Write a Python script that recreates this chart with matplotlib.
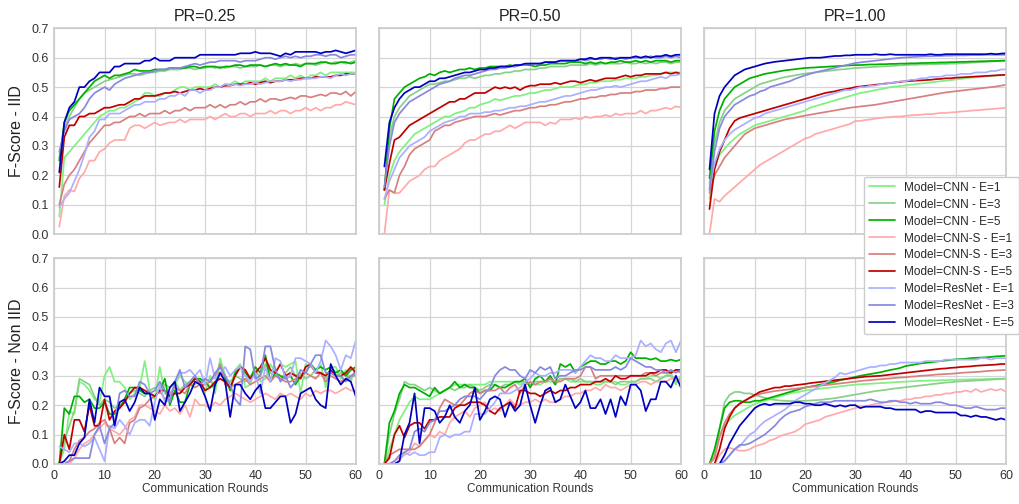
import matplotlib.pyplot as plt
import seaborn as sns

sns.set_theme(style="whitegrid")
plt.rcParams['font.family'] = ['Liberation Sans', 'DejaVu Sans']

rounds = list(range(1, 61))

labels = ['Model=CNN - E=1', 'Model=CNN - E=3', 'Model=CNN - E=5',
          'Model=CNN-S - E=1', 'Model=CNN-S - E=3', 'Model=CNN-S - E=5',
          'Model=ResNet - E=1', 'Model=ResNet - E=3', 'Model=ResNet - E=5']
colors = ['#80f080', '#88d088', '#00b000',
          '#ffaaaa', '#d88080', '#c00000',
          '#aab0ff', '#8888e0', '#0000c0']
pr_titles = ['PR=0.25', 'PR=0.50', 'PR=1.00']
row_labels = ['F-Score - IID', 'F-Score - Non IID']

# ---------- IID, PR=0.25 ----------
iid25_cnn1 = [0.06, 0.26, 0.28, 0.30, 0.32, 0.34, 0.36, 0.38, 0.40, 0.41,
              0.42, 0.42, 0.43, 0.43, 0.44, 0.45, 0.46, 0.48, 0.48, 0.47,
              0.47, 0.48, 0.48, 0.49, 0.50, 0.50, 0.49, 0.50, 0.50, 0.50,
              0.50, 0.51, 0.50, 0.51, 0.51, 0.52, 0.51, 0.52, 0.52, 0.52,
              0.52, 0.53, 0.52, 0.53, 0.53, 0.53, 0.54, 0.53, 0.54, 0.53,
              0.54, 0.54, 0.55, 0.54, 0.55, 0.55, 0.55, 0.55, 0.55, 0.55]
iid25_cnn3 = [0.26, 0.36, 0.40, 0.43, 0.46, 0.48, 0.49, 0.50, 0.51, 0.52,
              0.525, 0.53, 0.535, 0.54, 0.545, 0.545, 0.54, 0.545, 0.55, 0.55,
              0.555, 0.555, 0.56, 0.56, 0.56, 0.565, 0.565, 0.56, 0.565, 0.565,
              0.57, 0.565, 0.57, 0.565, 0.57, 0.57, 0.565, 0.57, 0.57, 0.57,
              0.575, 0.57, 0.575, 0.575, 0.57, 0.575, 0.575, 0.58, 0.575, 0.58,
              0.58, 0.575, 0.58, 0.585, 0.58, 0.585, 0.585, 0.58, 0.585, 0.59]
iid25_cnn5 = [0.25, 0.38, 0.42, 0.44, 0.46, 0.48, 0.50, 0.52, 0.53, 0.54,
              0.53, 0.54, 0.54, 0.545, 0.55, 0.56, 0.555, 0.555, 0.555, 0.56,
              0.56, 0.56, 0.565, 0.565, 0.565, 0.565, 0.57, 0.57, 0.565, 0.57,
              0.57, 0.57, 0.565, 0.57, 0.57, 0.575, 0.575, 0.57, 0.575, 0.575,
              0.575, 0.57, 0.575, 0.58, 0.575, 0.58, 0.575, 0.575, 0.57, 0.58,
              0.58, 0.58, 0.585, 0.585, 0.58, 0.58, 0.585, 0.585, 0.58, 0.585]
iid25_cnns1 = [0.025, 0.13, 0.15, 0.145, 0.19, 0.21, 0.25, 0.25, 0.28, 0.29,
               0.31, 0.32, 0.32, 0.32, 0.36, 0.37, 0.37, 0.36, 0.37, 0.38,
               0.37, 0.375, 0.38, 0.38, 0.39, 0.38, 0.39, 0.39, 0.39, 0.39,
               0.40, 0.39, 0.40, 0.41, 0.40, 0.40, 0.41, 0.41, 0.40, 0.41,
               0.41, 0.41, 0.42, 0.41, 0.42, 0.42, 0.41, 0.42, 0.42, 0.43,
               0.42, 0.43, 0.42, 0.43, 0.43, 0.44, 0.44, 0.45, 0.445, 0.44]
iid25_cnns3 = [0.10, 0.17, 0.20, 0.22, 0.25, 0.28, 0.31, 0.33, 0.35, 0.37,
               0.37, 0.38, 0.38, 0.39, 0.40, 0.40, 0.41, 0.40, 0.41, 0.41,
               0.41, 0.42, 0.41, 0.42, 0.42, 0.43, 0.42, 0.43, 0.43, 0.43,
               0.44, 0.43, 0.44, 0.43, 0.44, 0.44, 0.45, 0.44, 0.45, 0.45,
               0.46, 0.45, 0.46, 0.46, 0.455, 0.46, 0.465, 0.46, 0.47, 0.47,
               0.465, 0.47, 0.475, 0.47, 0.48, 0.48, 0.475, 0.485, 0.47, 0.485]
iid25_cnns5 = [0.16, 0.33, 0.37, 0.37, 0.40, 0.40, 0.41, 0.41, 0.42, 0.43,
               0.43, 0.435, 0.44, 0.44, 0.45, 0.46, 0.46, 0.47, 0.47, 0.47,
               0.475, 0.48, 0.48, 0.485, 0.48, 0.485, 0.49, 0.49, 0.495, 0.49,
               0.495, 0.50, 0.50, 0.505, 0.505, 0.51, 0.51, 0.51, 0.515, 0.51,
               0.515, 0.52, 0.515, 0.52, 0.52, 0.525, 0.525, 0.525, 0.53, 0.53,
               0.53, 0.535, 0.535, 0.535, 0.535, 0.54, 0.54, 0.545, 0.545, 0.545]
iid25_resnet1 = [0.09, 0.12, 0.14, 0.18, 0.22, 0.27, 0.33, 0.35, 0.39, 0.39,
                 0.41, 0.41, 0.41, 0.42, 0.43, 0.44, 0.44, 0.45, 0.45, 0.45,
                 0.46, 0.46, 0.47, 0.47, 0.48, 0.47, 0.49, 0.49, 0.48, 0.49,
                 0.49, 0.50, 0.50, 0.51, 0.505, 0.51, 0.505, 0.51, 0.51, 0.515,
                 0.51, 0.515, 0.52, 0.52, 0.52, 0.525, 0.52, 0.525, 0.525, 0.53,
                 0.53, 0.53, 0.535, 0.535, 0.53, 0.54, 0.545, 0.54, 0.545, 0.545]
iid25_resnet3 = [0.28, 0.35, 0.39, 0.40, 0.41, 0.43, 0.46, 0.48, 0.49, 0.50,
                 0.49, 0.51, 0.52, 0.53, 0.535, 0.54, 0.545, 0.55, 0.55, 0.555,
                 0.56, 0.56, 0.565, 0.565, 0.565, 0.57, 0.575, 0.58, 0.575, 0.58,
                 0.585, 0.585, 0.59, 0.59, 0.59, 0.59, 0.585, 0.59, 0.59, 0.59,
                 0.595, 0.60, 0.60, 0.595, 0.60, 0.605, 0.60, 0.605, 0.60, 0.605,
                 0.605, 0.61, 0.61, 0.605, 0.61, 0.61, 0.60, 0.605, 0.61, 0.61]
iid25_resnet5 = [0.21, 0.38, 0.43, 0.45, 0.50, 0.50, 0.52, 0.53, 0.55, 0.55,
                 0.55, 0.57, 0.57, 0.58, 0.58, 0.58, 0.58, 0.59, 0.59, 0.60,
                 0.59, 0.59, 0.59, 0.60, 0.60, 0.60, 0.60, 0.60, 0.61, 0.61,
                 0.61, 0.61, 0.61, 0.61, 0.61, 0.61, 0.615, 0.615, 0.615, 0.62,
                 0.615, 0.615, 0.615, 0.61, 0.605, 0.615, 0.61, 0.62, 0.62, 0.62,
                 0.62, 0.62, 0.615, 0.62, 0.62, 0.625, 0.62, 0.615, 0.62, 0.625]

# ---------- IID, PR=0.50 ----------
iid50_cnn1 = [0.10, 0.20, 0.25, 0.28, 0.30, 0.32, 0.34, 0.35, 0.36, 0.37,
              0.38, 0.39, 0.40, 0.40, 0.41, 0.415, 0.42, 0.43, 0.43, 0.44,
              0.445, 0.45, 0.46, 0.455, 0.46, 0.465, 0.47, 0.47, 0.475, 0.48,
              0.48, 0.485, 0.49, 0.49, 0.495, 0.50, 0.50, 0.50, 0.505, 0.51,
              0.51, 0.515, 0.515, 0.52, 0.52, 0.52, 0.525, 0.525, 0.53, 0.53,
              0.53, 0.535, 0.535, 0.54, 0.54, 0.545, 0.55, 0.55, 0.55, 0.55]
iid50_cnn3 = [0.15, 0.33, 0.40, 0.43, 0.45, 0.47, 0.48, 0.49, 0.50, 0.51,
              0.51, 0.515, 0.52, 0.52, 0.525, 0.53, 0.53, 0.535, 0.53, 0.535,
              0.54, 0.54, 0.545, 0.545, 0.55, 0.55, 0.555, 0.555, 0.56, 0.56,
              0.56, 0.565, 0.565, 0.57, 0.57, 0.57, 0.57, 0.575, 0.575, 0.575,
              0.575, 0.58, 0.575, 0.58, 0.58, 0.58, 0.58, 0.58, 0.585, 0.58,
              0.58, 0.585, 0.58, 0.585, 0.58, 0.585, 0.585, 0.58, 0.585, 0.585]
iid50_cnn5 = [0.15, 0.36, 0.46, 0.48, 0.50, 0.51, 0.52, 0.53, 0.535, 0.545,
              0.54, 0.55, 0.555, 0.55, 0.555, 0.56, 0.56, 0.565, 0.56, 0.565,
              0.565, 0.57, 0.57, 0.57, 0.57, 0.575, 0.57, 0.575, 0.575, 0.575,
              0.57, 0.575, 0.575, 0.58, 0.58, 0.58, 0.58, 0.585, 0.585, 0.585,
              0.58, 0.585, 0.58, 0.585, 0.58, 0.585, 0.585, 0.59, 0.585, 0.585,
              0.59, 0.585, 0.59, 0.585, 0.59, 0.59, 0.59, 0.585, 0.59, 0.59]
iid50_cnns1 = [0.00, 0.15, 0.14, 0.14, 0.16, 0.18, 0.19, 0.20, 0.22, 0.23,
               0.23, 0.25, 0.26, 0.27, 0.28, 0.29, 0.31, 0.32, 0.32, 0.33,
               0.34, 0.34, 0.35, 0.35, 0.36, 0.37, 0.36, 0.37, 0.38, 0.38,
               0.38, 0.38, 0.37, 0.38, 0.375, 0.39, 0.39, 0.39, 0.395, 0.39,
               0.40, 0.395, 0.40, 0.40, 0.405, 0.40, 0.41, 0.405, 0.41, 0.41,
               0.41, 0.42, 0.41, 0.42, 0.42, 0.425, 0.43, 0.425, 0.435, 0.43]
iid50_cnns3 = [0.12, 0.15, 0.14, 0.20, 0.23, 0.27, 0.29, 0.30, 0.31, 0.32,
               0.35, 0.36, 0.37, 0.37, 0.38, 0.385, 0.39, 0.395, 0.40, 0.40,
               0.40, 0.405, 0.41, 0.405, 0.41, 0.415, 0.42, 0.42, 0.425, 0.43,
               0.43, 0.435, 0.435, 0.44, 0.44, 0.445, 0.45, 0.45, 0.455, 0.46,
               0.46, 0.465, 0.465, 0.47, 0.47, 0.475, 0.475, 0.48, 0.48, 0.48,
               0.485, 0.485, 0.49, 0.49, 0.49, 0.495, 0.495, 0.50, 0.50, 0.50]
iid50_cnns5 = [0.15, 0.24, 0.32, 0.33, 0.35, 0.37, 0.38, 0.39, 0.40, 0.41,
               0.42, 0.43, 0.44, 0.45, 0.45, 0.46, 0.46, 0.47, 0.48, 0.48,
               0.48, 0.49, 0.50, 0.495, 0.50, 0.495, 0.50, 0.49, 0.50, 0.505,
               0.505, 0.51, 0.51, 0.51, 0.515, 0.51, 0.515, 0.52, 0.52, 0.515,
               0.52, 0.525, 0.52, 0.525, 0.53, 0.53, 0.53, 0.535, 0.54, 0.535,
               0.54, 0.54, 0.545, 0.545, 0.545, 0.545, 0.55, 0.545, 0.55, 0.545]
iid50_resnet1 = [0.12, 0.18, 0.22, 0.26, 0.28, 0.30, 0.31, 0.32, 0.33, 0.35,
                 0.36, 0.37, 0.38, 0.385, 0.39, 0.40, 0.40, 0.41, 0.41, 0.41,
                 0.415, 0.415, 0.42, 0.42, 0.425, 0.43, 0.43, 0.435, 0.435, 0.44,
                 0.445, 0.45, 0.45, 0.455, 0.46, 0.465, 0.47, 0.47, 0.475, 0.48,
                 0.485, 0.49, 0.49, 0.495, 0.50, 0.50, 0.505, 0.50, 0.505, 0.51,
                 0.515, 0.52, 0.52, 0.525, 0.53, 0.535, 0.53, 0.54, 0.54, 0.545]
iid50_resnet3 = [0.16, 0.30, 0.38, 0.41, 0.43, 0.45, 0.46, 0.47, 0.48, 0.49,
                 0.50, 0.51, 0.515, 0.52, 0.53, 0.535, 0.54, 0.54, 0.545, 0.55,
                 0.555, 0.56, 0.56, 0.565, 0.565, 0.57, 0.57, 0.575, 0.575, 0.58,
                 0.58, 0.58, 0.585, 0.585, 0.585, 0.59, 0.59, 0.59, 0.59, 0.595,
                 0.59, 0.595, 0.595, 0.595, 0.60, 0.595, 0.60, 0.60, 0.595, 0.60,
                 0.60, 0.60, 0.60, 0.605, 0.60, 0.60, 0.605, 0.60, 0.605, 0.60]
iid50_resnet5 = [0.23, 0.38, 0.43, 0.46, 0.48, 0.49, 0.50, 0.50, 0.51, 0.52,
                 0.52, 0.53, 0.53, 0.535, 0.54, 0.545, 0.55, 0.55, 0.555, 0.56,
                 0.56, 0.565, 0.565, 0.57, 0.57, 0.57, 0.575, 0.575, 0.58, 0.58,
                 0.58, 0.58, 0.585, 0.585, 0.585, 0.59, 0.59, 0.59, 0.59, 0.595,
                 0.595, 0.60, 0.595, 0.60, 0.60, 0.60, 0.595, 0.60, 0.60, 0.60,
                 0.605, 0.60, 0.605, 0.60, 0.605, 0.605, 0.61, 0.605, 0.61, 0.61]

# ---------- IID, PR=1.00 ----------
iid100_cnn1 = [0.12, 0.23, 0.27, 0.29, 0.31, 0.325, 0.34, 0.35, 0.36, 0.37,
               0.375, 0.38, 0.385, 0.39, 0.395, 0.40, 0.405, 0.41, 0.415, 0.42,
               0.43, 0.435, 0.44, 0.445, 0.45, 0.455, 0.46, 0.465, 0.47, 0.475,
               0.48, 0.483, 0.486, 0.49, 0.493, 0.496, 0.50, 0.502, 0.504, 0.506,
               0.508, 0.51, 0.512, 0.514, 0.516, 0.518, 0.52, 0.522, 0.524, 0.526,
               0.528, 0.53, 0.532, 0.533, 0.535, 0.537, 0.538, 0.54, 0.541, 0.542]
iid100_cnn3 = [0.17, 0.31, 0.38, 0.42, 0.44, 0.46, 0.47, 0.48, 0.49, 0.50,
               0.51, 0.515, 0.52, 0.525, 0.53, 0.534, 0.537, 0.54, 0.543, 0.546,
               0.548, 0.55, 0.552, 0.554, 0.556, 0.558, 0.56, 0.561, 0.563, 0.565,
               0.566, 0.567, 0.568, 0.569, 0.57, 0.571, 0.572, 0.573, 0.574, 0.575,
               0.576, 0.576, 0.577, 0.577, 0.578, 0.578, 0.579, 0.579, 0.58, 0.58,
               0.581, 0.582, 0.583, 0.584, 0.585, 0.586, 0.587, 0.588, 0.589, 0.59]
iid100_cnn5 = [0.19, 0.35, 0.42, 0.46, 0.48, 0.50, 0.51, 0.52, 0.53, 0.535,
               0.54, 0.545, 0.548, 0.551, 0.554, 0.557, 0.559, 0.561, 0.563, 0.565,
               0.566, 0.567, 0.568, 0.569, 0.57, 0.571, 0.572, 0.573, 0.574, 0.575,
               0.575, 0.576, 0.577, 0.577, 0.578, 0.578, 0.579, 0.579, 0.58, 0.58,
               0.581, 0.581, 0.582, 0.582, 0.583, 0.583, 0.584, 0.584, 0.585, 0.585,
               0.586, 0.586, 0.587, 0.587, 0.588, 0.588, 0.589, 0.589, 0.59, 0.59]
iid100_cnns1 = [0.0, 0.12, 0.11, 0.13, 0.145, 0.16, 0.175, 0.19, 0.205, 0.22,
                0.235, 0.245, 0.255, 0.265, 0.275, 0.285, 0.295, 0.305, 0.315, 0.325,
                0.33, 0.34, 0.345, 0.35, 0.355, 0.36, 0.365, 0.37, 0.375, 0.385,
                0.385, 0.388, 0.39, 0.393, 0.395, 0.397, 0.398, 0.40, 0.40, 0.402,
                0.404, 0.405, 0.406, 0.408, 0.408, 0.41, 0.412, 0.412, 0.414, 0.415,
                0.417, 0.418, 0.42, 0.421, 0.422, 0.424, 0.425, 0.427, 0.428, 0.43]
iid100_cnns3 = [0.14, 0.20, 0.23, 0.26, 0.28, 0.30, 0.32, 0.34, 0.35, 0.36,
                0.365, 0.37, 0.375, 0.38, 0.385, 0.39, 0.393, 0.396, 0.40, 0.403,
                0.406, 0.409, 0.412, 0.415, 0.418, 0.421, 0.424, 0.427, 0.43, 0.432,
                0.434, 0.436, 0.438, 0.44, 0.443, 0.446, 0.449, 0.452, 0.455, 0.458,
                0.461, 0.464, 0.467, 0.47, 0.473, 0.476, 0.479, 0.482, 0.484, 0.486,
                0.488, 0.49, 0.492, 0.494, 0.496, 0.498, 0.50, 0.502, 0.505, 0.508]
iid100_cnns5 = [0.085, 0.22, 0.28, 0.32, 0.36, 0.385, 0.395, 0.40, 0.405, 0.41,
                0.415, 0.42, 0.425, 0.43, 0.435, 0.44, 0.445, 0.45, 0.455, 0.46,
                0.465, 0.47, 0.475, 0.48, 0.483, 0.486, 0.49, 0.493, 0.496, 0.50,
                0.502, 0.504, 0.506, 0.508, 0.51, 0.512, 0.514, 0.516, 0.518, 0.52,
                0.521, 0.522, 0.523, 0.524, 0.525, 0.527, 0.528, 0.53, 0.53, 0.532,
                0.533, 0.534, 0.535, 0.536, 0.537, 0.538, 0.539, 0.54, 0.541, 0.542]
iid100_resnet1 = [0.16, 0.24, 0.29, 0.32, 0.34, 0.355, 0.365, 0.375, 0.385, 0.395,
                  0.40, 0.41, 0.415, 0.42, 0.425, 0.43, 0.435, 0.44, 0.445, 0.45,
                  0.455, 0.46, 0.465, 0.47, 0.475, 0.48, 0.485, 0.49, 0.49, 0.495,
                  0.50, 0.50, 0.505, 0.505, 0.51, 0.51, 0.515, 0.515, 0.52, 0.52,
                  0.525, 0.525, 0.53, 0.53, 0.535, 0.535, 0.535, 0.54, 0.54, 0.54,
                  0.545, 0.545, 0.545, 0.55, 0.55, 0.55, 0.555, 0.555, 0.56, 0.56]
iid100_resnet3 = [0.15, 0.28, 0.36, 0.40, 0.42, 0.44, 0.45, 0.46, 0.47, 0.475,
                  0.485, 0.49, 0.50, 0.505, 0.51, 0.515, 0.52, 0.528, 0.534, 0.54,
                  0.545, 0.55, 0.554, 0.558, 0.562, 0.566, 0.57, 0.574, 0.578, 0.582,
                  0.584, 0.586, 0.588, 0.59, 0.592, 0.594, 0.596, 0.598, 0.60, 0.601,
                  0.602, 0.603, 0.604, 0.605, 0.605, 0.606, 0.606, 0.607, 0.607, 0.608,
                  0.608, 0.608, 0.609, 0.609, 0.609, 0.61, 0.61, 0.61, 0.61, 0.61]
iid100_resnet5 = [0.22, 0.41, 0.47, 0.50, 0.52, 0.54, 0.55, 0.56, 0.565, 0.57,
                  0.575, 0.58, 0.583, 0.586, 0.588, 0.59, 0.592, 0.594, 0.596, 0.598,
                  0.60, 0.60, 0.60, 0.602, 0.604, 0.606, 0.606, 0.608, 0.608, 0.61,
                  0.61, 0.61, 0.61, 0.612, 0.61, 0.61, 0.612, 0.61, 0.61, 0.61,
                  0.61, 0.61, 0.61, 0.61, 0.612, 0.61, 0.61, 0.612, 0.612, 0.612,
                  0.612, 0.612, 0.612, 0.612, 0.612, 0.612, 0.614, 0.612, 0.614, 0.615]

# ---------- Non IID, PR=0.25 ----------
niid25_cnn1 = [0.0, 0.05, 0.18, 0.17, 0.28, 0.27, 0.25, 0.22, 0.21, 0.30,
               0.33, 0.28, 0.28, 0.26, 0.22, 0.24, 0.26, 0.35, 0.25, 0.22,
               0.33, 0.24, 0.23, 0.27, 0.30, 0.28, 0.27, 0.27, 0.29, 0.24,
               0.30, 0.24, 0.36, 0.30, 0.25, 0.32, 0.34, 0.26, 0.27, 0.33,
               0.28, 0.29, 0.34, 0.31, 0.34, 0.33, 0.34, 0.35, 0.24, 0.34,
               0.33, 0.32, 0.34, 0.26, 0.33, 0.33, 0.29, 0.32, 0.28, 0.33]
niid25_cnn3 = [0.0, 0.08, 0.13, 0.18, 0.29, 0.28, 0.27, 0.23, 0.20, 0.22,
               0.21, 0.19, 0.20, 0.21, 0.24, 0.25, 0.24, 0.23, 0.25, 0.26,
               0.24, 0.27, 0.26, 0.28, 0.25, 0.27, 0.28, 0.30, 0.27, 0.29,
               0.28, 0.27, 0.34, 0.29, 0.28, 0.30, 0.29, 0.28, 0.30, 0.31,
               0.30, 0.34, 0.31, 0.30, 0.29, 0.31, 0.33, 0.30, 0.31, 0.29,
               0.30, 0.32, 0.31, 0.29, 0.31, 0.30, 0.31, 0.30, 0.29, 0.32]
niid25_cnn5 = [0.0, 0.19, 0.17, 0.23, 0.23, 0.21, 0.22, 0.19, 0.19, 0.21,
               0.17, 0.17, 0.19, 0.22, 0.26, 0.26, 0.25, 0.24, 0.24, 0.23,
               0.25, 0.29, 0.20, 0.25, 0.21, 0.21, 0.27, 0.29, 0.29, 0.28,
               0.26, 0.27, 0.31, 0.29, 0.25, 0.31, 0.33, 0.31, 0.29, 0.33,
               0.31, 0.37, 0.28, 0.31, 0.30, 0.29, 0.30, 0.27, 0.30, 0.31,
               0.34, 0.32, 0.33, 0.32, 0.33, 0.31, 0.32, 0.30, 0.32, 0.33]
niid25_cnns1 = [0.0, 0.0, 0.0, 0.02, 0.05, 0.07, 0.08, 0.10, 0.12, 0.14,
                0.12, 0.11, 0.10, 0.12, 0.15, 0.16, 0.20, 0.20, 0.19, 0.18,
                0.17, 0.20, 0.18, 0.19, 0.17, 0.20, 0.16, 0.22, 0.20, 0.20,
                0.19, 0.21, 0.20, 0.22, 0.23, 0.24, 0.23, 0.22, 0.21, 0.22,
                0.23, 0.24, 0.23, 0.22, 0.24, 0.23, 0.24, 0.23, 0.22, 0.24,
                0.23, 0.25, 0.24, 0.25, 0.25, 0.24, 0.25, 0.26, 0.25, 0.25]
niid25_cnns3 = [0.0, 0.0, 0.01, 0.05, 0.08, 0.09, 0.11, 0.12, 0.14, 0.15,
                0.12, 0.07, 0.09, 0.07, 0.14, 0.15, 0.19, 0.20, 0.22, 0.23,
                0.25, 0.22, 0.24, 0.26, 0.25, 0.24, 0.27, 0.26, 0.27, 0.27,
                0.28, 0.30, 0.34, 0.27, 0.26, 0.27, 0.28, 0.29, 0.27, 0.28,
                0.29, 0.30, 0.28, 0.30, 0.29, 0.28, 0.28, 0.29, 0.30, 0.31,
                0.30, 0.29, 0.31, 0.28, 0.30, 0.29, 0.28, 0.29, 0.30, 0.30]
niid25_cnns5 = [0.0, 0.10, 0.05, 0.15, 0.15, 0.11, 0.20, 0.13, 0.13, 0.22,
                0.15, 0.18, 0.19, 0.21, 0.24, 0.26, 0.26, 0.25, 0.24, 0.23,
                0.25, 0.25, 0.23, 0.24, 0.24, 0.26, 0.27, 0.29, 0.28, 0.25,
                0.26, 0.28, 0.29, 0.28, 0.26, 0.30, 0.33, 0.32, 0.29, 0.31,
                0.33, 0.36, 0.32, 0.31, 0.34, 0.30, 0.31, 0.30, 0.29, 0.33,
                0.34, 0.31, 0.31, 0.30, 0.32, 0.30, 0.30, 0.31, 0.33, 0.31]
niid25_resnet1 = [0.06, 0.05, 0.04, 0.07, 0.07, 0.06, 0.07, 0.09, 0.05, 0.01,
                  0.13, 0.12, 0.15, 0.13, 0.10, 0.14, 0.15, 0.15, 0.13, 0.21,
                  0.27, 0.21, 0.22, 0.28, 0.31, 0.31, 0.32, 0.30, 0.32, 0.27,
                  0.36, 0.29, 0.31, 0.33, 0.30, 0.32, 0.33, 0.30, 0.28, 0.31,
                  0.24, 0.33, 0.28, 0.36, 0.35, 0.29, 0.30, 0.36, 0.36, 0.35,
                  0.34, 0.31, 0.35, 0.42, 0.40, 0.37, 0.32, 0.37, 0.36, 0.42]
niid25_resnet3 = [0.0, 0.0, 0.01, 0.02, 0.02, 0.02, 0.02, 0.10, 0.13, 0.07,
                  0.12, 0.14, 0.24, 0.25, 0.23, 0.23, 0.28, 0.27, 0.24, 0.25,
                  0.28, 0.25, 0.21, 0.28, 0.32, 0.26, 0.28, 0.30, 0.27, 0.29,
                  0.28, 0.31, 0.33, 0.30, 0.27, 0.22, 0.20, 0.40, 0.39, 0.29,
                  0.30, 0.40, 0.40, 0.32, 0.28, 0.30, 0.26, 0.28, 0.32, 0.31,
                  0.34, 0.37, 0.37, 0.31, 0.31, 0.30, 0.30, 0.28, 0.30, 0.31]
niid25_resnet5 = [0.0, 0.01, 0.03, 0.03, 0.07, 0.09, 0.22, 0.14, 0.26, 0.23,
                  0.23, 0.13, 0.21, 0.22, 0.18, 0.21, 0.26, 0.24, 0.24, 0.15,
                  0.22, 0.20, 0.26, 0.28, 0.18, 0.21, 0.24, 0.28, 0.27, 0.23,
                  0.18, 0.27, 0.31, 0.28, 0.16, 0.27, 0.27, 0.24, 0.22, 0.25,
                  0.27, 0.19, 0.19, 0.21, 0.23, 0.23, 0.14, 0.17, 0.24, 0.25,
                  0.26, 0.22, 0.20, 0.19, 0.34, 0.30, 0.27, 0.29, 0.28, 0.23]

# ---------- Non IID, PR=0.50 ----------
niid50_cnn1 = [0.0, 0.05, 0.10, 0.15, 0.18, 0.21, 0.23, 0.22, 0.22, 0.22,
               0.23, 0.24, 0.25, 0.26, 0.27, 0.27, 0.27, 0.27, 0.27, 0.27,
               0.27, 0.28, 0.28, 0.28, 0.28, 0.28, 0.28, 0.27, 0.28, 0.27,
               0.27, 0.27, 0.28, 0.28, 0.28, 0.29, 0.29, 0.28, 0.28, 0.28,
               0.28, 0.28, 0.27, 0.27, 0.28, 0.28, 0.28, 0.27, 0.27, 0.28,
               0.28, 0.29, 0.29, 0.30, 0.30, 0.29, 0.30, 0.31, 0.27, 0.30]
niid50_cnn3 = [0.0, 0.10, 0.17, 0.22, 0.28, 0.27, 0.27, 0.26, 0.25, 0.26,
               0.25, 0.24, 0.25, 0.26, 0.25, 0.26, 0.26, 0.27, 0.26, 0.25,
               0.26, 0.27, 0.27, 0.26, 0.27, 0.27, 0.28, 0.28, 0.28, 0.27,
               0.28, 0.28, 0.28, 0.29, 0.27, 0.29, 0.29, 0.29, 0.28, 0.29,
               0.28, 0.28, 0.28, 0.28, 0.28, 0.28, 0.27, 0.28, 0.28, 0.28,
               0.28, 0.29, 0.29, 0.29, 0.28, 0.29, 0.30, 0.30, 0.28, 0.29]
niid50_cnn5 = [0.0, 0.14, 0.18, 0.24, 0.27, 0.26, 0.26, 0.25, 0.24, 0.23,
               0.26, 0.24, 0.25, 0.26, 0.28, 0.26, 0.27, 0.26, 0.26, 0.24,
               0.25, 0.25, 0.27, 0.26, 0.26, 0.27, 0.28, 0.28, 0.29, 0.26,
               0.29, 0.30, 0.28, 0.30, 0.27, 0.34, 0.33, 0.34, 0.31, 0.33,
               0.34, 0.35, 0.35, 0.34, 0.34, 0.35, 0.35, 0.34, 0.35, 0.38,
               0.36, 0.36, 0.36, 0.355, 0.36, 0.35, 0.35, 0.355, 0.35, 0.355]
niid50_cnns1 = [0.0, 0.0, 0.01, 0.02, 0.03, 0.04, 0.07, 0.06, 0.08, 0.10,
                0.09, 0.11, 0.10, 0.14, 0.16, 0.17, 0.18, 0.16, 0.19, 0.20,
                0.21, 0.18, 0.19, 0.18, 0.20, 0.22, 0.20, 0.20, 0.21, 0.21,
                0.22, 0.21, 0.22, 0.21, 0.21, 0.22, 0.23, 0.23, 0.24, 0.24,
                0.25, 0.25, 0.26, 0.25, 0.27, 0.26, 0.26, 0.25, 0.26, 0.27,
                0.27, 0.28, 0.28, 0.27, 0.28, 0.28, 0.28, 0.29, 0.29, 0.28]
niid50_cnns3 = [0.0, 0.03, 0.04, 0.05, 0.05, 0.05, 0.05, 0.06, 0.08, 0.10,
                0.14, 0.19, 0.22, 0.21, 0.20, 0.20, 0.22, 0.24, 0.25, 0.24,
                0.25, 0.25, 0.25, 0.26, 0.24, 0.26, 0.27, 0.24, 0.27, 0.28,
                0.27, 0.28, 0.28, 0.29, 0.28, 0.28, 0.29, 0.29, 0.29, 0.30,
                0.33, 0.33, 0.29, 0.30, 0.30, 0.30, 0.30, 0.30, 0.30, 0.30,
                0.30, 0.30, 0.31, 0.31, 0.30, 0.31, 0.31, 0.31, 0.32, 0.31]
niid50_cnns5 = [0.0, 0.02, 0.10, 0.13, 0.09, 0.13, 0.14, 0.14, 0.12, 0.15,
                0.15, 0.16, 0.16, 0.16, 0.19, 0.20, 0.20, 0.21, 0.21, 0.21,
                0.20, 0.18, 0.17, 0.19, 0.20, 0.21, 0.19, 0.25, 0.25, 0.24,
                0.24, 0.23, 0.24, 0.25, 0.24, 0.25, 0.25, 0.26, 0.26, 0.27,
                0.27, 0.27, 0.28, 0.28, 0.29, 0.28, 0.30, 0.29, 0.29, 0.30,
                0.30, 0.30, 0.30, 0.31, 0.31, 0.32, 0.32, 0.31, 0.32, 0.32]
niid50_resnet1 = [0.0, 0.0, 0.0, 0.01, 0.04, 0.03, 0.04, 0.03, 0.03, 0.04,
                  0.04, 0.09, 0.10, 0.09, 0.10, 0.10, 0.11, 0.11, 0.17, 0.17,
                  0.17, 0.19, 0.21, 0.24, 0.24, 0.24, 0.25, 0.26, 0.28, 0.29,
                  0.31, 0.30, 0.30, 0.31, 0.31, 0.32, 0.32, 0.32, 0.31, 0.33,
                  0.35, 0.37, 0.36, 0.36, 0.35, 0.35, 0.37, 0.36, 0.36, 0.36,
                  0.37, 0.42, 0.40, 0.41, 0.39, 0.38, 0.41, 0.42, 0.38, 0.42]
niid50_resnet3 = [0.0, 0.0, 0.01, 0.03, 0.04, 0.05, 0.11, 0.12, 0.11, 0.14,
                  0.15, 0.18, 0.18, 0.19, 0.20, 0.22, 0.23, 0.23, 0.23, 0.22,
                  0.24, 0.26, 0.30, 0.32, 0.33, 0.32, 0.32, 0.30, 0.29, 0.32,
                  0.31, 0.33, 0.32, 0.33, 0.29, 0.30, 0.30, 0.31, 0.32, 0.32,
                  0.33, 0.33, 0.32, 0.32, 0.32, 0.32, 0.33, 0.32, 0.33, 0.36,
                  0.35, 0.34, 0.33, 0.33, 0.32, 0.32, 0.31, 0.32, 0.31, 0.32]
niid50_resnet5 = [0.0, 0.0, 0.0, 0.01, 0.10, 0.14, 0.24, 0.07, 0.19, 0.19,
                  0.18, 0.14, 0.16, 0.20, 0.16, 0.14, 0.18, 0.20, 0.26, 0.15,
                  0.18, 0.22, 0.23, 0.22, 0.16, 0.21, 0.18, 0.20, 0.27, 0.20,
                  0.14, 0.20, 0.25, 0.26, 0.21, 0.22, 0.27, 0.23, 0.19, 0.21,
                  0.25, 0.19, 0.19, 0.22, 0.17, 0.22, 0.16, 0.23, 0.20, 0.27,
                  0.27, 0.25, 0.18, 0.22, 0.22, 0.28, 0.28, 0.26, 0.30, 0.26]

# ---------- Non IID, PR=1.00 ----------
niid100_cnn1 = [0.0, 0.03, 0.10, 0.13, 0.15, 0.165, 0.175, 0.185, 0.195, 0.205,
                0.21, 0.215, 0.22, 0.225, 0.23, 0.235, 0.24, 0.243, 0.246, 0.25,
                0.252, 0.254, 0.256, 0.258, 0.26, 0.262, 0.264, 0.266, 0.268, 0.27,
                0.271, 0.272, 0.273, 0.274, 0.275, 0.276, 0.277, 0.278, 0.279, 0.28,
                0.281, 0.282, 0.283, 0.283, 0.284, 0.284, 0.285, 0.285, 0.286, 0.286,
                0.287, 0.287, 0.288, 0.288, 0.288, 0.289, 0.289, 0.29, 0.29, 0.291]
niid100_cnn3 = [0.0, 0.03, 0.12, 0.21, 0.235, 0.245, 0.245, 0.24, 0.24, 0.235,
                0.23, 0.225, 0.22, 0.218, 0.216, 0.215, 0.214, 0.214, 0.214, 0.215,
                0.216, 0.217, 0.218, 0.22, 0.222, 0.224, 0.227, 0.23, 0.233, 0.236,
                0.239, 0.242, 0.245, 0.248, 0.25, 0.252, 0.255, 0.257, 0.259, 0.261,
                0.263, 0.265, 0.267, 0.269, 0.271, 0.273, 0.275, 0.277, 0.278, 0.28,
                0.281, 0.282, 0.283, 0.284, 0.285, 0.286, 0.287, 0.288, 0.289, 0.29]
niid100_cnn5 = [0.0, 0.05, 0.12, 0.19, 0.21, 0.215, 0.215, 0.21, 0.21, 0.215,
                0.215, 0.22, 0.225, 0.23, 0.235, 0.24, 0.245, 0.25, 0.255, 0.26,
                0.263, 0.266, 0.27, 0.273, 0.276, 0.28, 0.285, 0.288, 0.292, 0.296,
                0.30, 0.303, 0.306, 0.309, 0.312, 0.316, 0.32, 0.323, 0.327, 0.333,
                0.336, 0.339, 0.342, 0.344, 0.346, 0.348, 0.35, 0.352, 0.354, 0.356,
                0.357, 0.358, 0.36, 0.361, 0.362, 0.363, 0.364, 0.366, 0.367, 0.368]
niid100_cnns1 = [0.0, 0.0, 0.03, 0.05, 0.055, 0.05, 0.045, 0.045, 0.05, 0.06,
                 0.065, 0.07, 0.08, 0.085, 0.095, 0.10, 0.105, 0.11, 0.12, 0.135,
                 0.14, 0.145, 0.15, 0.16, 0.165, 0.17, 0.175, 0.18, 0.185, 0.19,
                 0.195, 0.195, 0.20, 0.205, 0.205, 0.21, 0.21, 0.215, 0.215, 0.22,
                 0.22, 0.225, 0.225, 0.23, 0.23, 0.235, 0.235, 0.24, 0.24, 0.245,
                 0.245, 0.25, 0.245, 0.255, 0.245, 0.25, 0.255, 0.25, 0.255, 0.245]
niid100_cnns3 = [0.0, 0.02, 0.09, 0.14, 0.17, 0.19, 0.205, 0.215, 0.225, 0.232,
                 0.238, 0.242, 0.245, 0.248, 0.25, 0.252, 0.254, 0.256, 0.258, 0.26,
                 0.262, 0.264, 0.266, 0.268, 0.27, 0.272, 0.274, 0.276, 0.278, 0.28,
                 0.282, 0.284, 0.285, 0.287, 0.288, 0.29, 0.291, 0.293, 0.294, 0.295,
                 0.297, 0.298, 0.30, 0.301, 0.302, 0.304, 0.305, 0.306, 0.307, 0.308,
                 0.31, 0.311, 0.312, 0.313, 0.314, 0.316, 0.317, 0.318, 0.319, 0.32]
niid100_cnns5 = [0.0, 0.0, 0.05, 0.12, 0.16, 0.19, 0.205, 0.215, 0.225, 0.235,
                 0.245, 0.25, 0.255, 0.26, 0.26, 0.265, 0.265, 0.268, 0.27, 0.272,
                 0.275, 0.277, 0.279, 0.281, 0.283, 0.285, 0.287, 0.289, 0.291, 0.293,
                 0.295, 0.297, 0.298, 0.299, 0.30, 0.302, 0.304, 0.306, 0.308, 0.31,
                 0.312, 0.314, 0.316, 0.318, 0.32, 0.322, 0.324, 0.325, 0.327, 0.328,
                 0.33, 0.331, 0.332, 0.334, 0.335, 0.336, 0.337, 0.338, 0.34, 0.34]
niid100_resnet1 = [0.0, 0.0, 0.0, 0.01, 0.03, 0.05, 0.06, 0.08, 0.10, 0.11,
                   0.13, 0.145, 0.155, 0.165, 0.175, 0.185, 0.20, 0.215, 0.225, 0.235,
                   0.245, 0.255, 0.265, 0.275, 0.285, 0.295, 0.31, 0.305, 0.31, 0.315,
                   0.32, 0.325, 0.33, 0.33, 0.335, 0.335, 0.34, 0.34, 0.345, 0.345,
                   0.345, 0.345, 0.345, 0.35, 0.35, 0.35, 0.35, 0.355, 0.355, 0.355,
                   0.355, 0.355, 0.355, 0.355, 0.36, 0.36, 0.355, 0.36, 0.36, 0.36]
niid100_resnet3 = [0.0, 0.0, 0.0, 0.01, 0.03, 0.05, 0.065, 0.065, 0.07, 0.08,
                   0.09, 0.10, 0.115, 0.13, 0.15, 0.165, 0.175, 0.18, 0.185, 0.195,
                   0.20, 0.205, 0.21, 0.21, 0.21, 0.215, 0.215, 0.215, 0.215, 0.215,
                   0.215, 0.215, 0.22, 0.215, 0.21, 0.21, 0.215, 0.215, 0.21, 0.21,
                   0.205, 0.21, 0.205, 0.205, 0.205, 0.21, 0.21, 0.205, 0.20, 0.20,
                   0.195, 0.19, 0.19, 0.195, 0.19, 0.185, 0.185, 0.185, 0.19, 0.19]
niid100_resnet5 = [0.0, 0.0, 0.0, 0.03, 0.07, 0.10, 0.13, 0.15, 0.17, 0.19,
                   0.20, 0.205, 0.20, 0.205, 0.205, 0.205, 0.205, 0.21, 0.21, 0.205,
                   0.205, 0.20, 0.20, 0.205, 0.20, 0.195, 0.20, 0.195, 0.20, 0.20,
                   0.19, 0.195, 0.195, 0.195, 0.195, 0.19, 0.19, 0.185, 0.185, 0.185,
                   0.185, 0.185, 0.175, 0.18, 0.18, 0.175, 0.175, 0.175, 0.175, 0.175,
                   0.165, 0.165, 0.16, 0.165, 0.16, 0.16, 0.155, 0.15, 0.155, 0.15]

panels = [
    [[iid25_cnn1, iid25_cnn3, iid25_cnn5, iid25_cnns1, iid25_cnns3, iid25_cnns5,
      iid25_resnet1, iid25_resnet3, iid25_resnet5],
     [iid50_cnn1, iid50_cnn3, iid50_cnn5, iid50_cnns1, iid50_cnns3, iid50_cnns5,
      iid50_resnet1, iid50_resnet3, iid50_resnet5],
     [iid100_cnn1, iid100_cnn3, iid100_cnn5, iid100_cnns1, iid100_cnns3, iid100_cnns5,
      iid100_resnet1, iid100_resnet3, iid100_resnet5]],
    [[niid25_cnn1, niid25_cnn3, niid25_cnn5, niid25_cnns1, niid25_cnns3, niid25_cnns5,
      niid25_resnet1, niid25_resnet3, niid25_resnet5],
     [niid50_cnn1, niid50_cnn3, niid50_cnn5, niid50_cnns1, niid50_cnns3, niid50_cnns5,
      niid50_resnet1, niid50_resnet3, niid50_resnet5],
     [niid100_cnn1, niid100_cnn3, niid100_cnn5, niid100_cnns1, niid100_cnns3, niid100_cnns5,
      niid100_resnet1, niid100_resnet3, niid100_resnet5]],
]

fig, axes = plt.subplots(2, 3, figsize=(10.2, 5.04), dpi=100, sharex=True, sharey=True)
fig.subplots_adjust(left=0.0532, right=0.9863, top=0.9438, bottom=0.0794,
                    wspace=0.078, hspace=0.117)

for r in range(2):
    for c in range(3):
        ax = axes[r][c]
        for series, col, lab in zip(panels[r][c], colors, labels):
            ax.plot(rounds, series, color=col, lw=1.25, label=lab)
        ax.set_xlim(0, 60)
        ax.set_ylim(0, 0.7)
        ax.set_xticks(range(0, 61, 10))
        ax.set_yticks([i / 10 for i in range(8)])
        ax.yaxis.set_major_formatter(plt.FormatStrFormatter('%.1f'))
        ax.tick_params(labelsize=9, length=0, pad=4, colors='#333333')
        for sp in ax.spines.values():
            sp.set_color('#cccccc')
        ax.grid(color='#d5d5d5', lw=0.9)
        if r == 0:
            ax.set_title(pr_titles[c], fontsize=11.5, color='#222222', pad=5)
        else:
            ax.set_xlabel('Communication Rounds', fontsize=8.5, color='#333333', labelpad=1)
        if c == 0:
            ax.set_ylabel(row_labels[r], fontsize=11.5, color='#222222', labelpad=5)

handles, labs = axes[0][0].get_legend_handles_labels()
fig.legend(handles, labs, loc='upper right', bbox_to_anchor=(0.999, 0.649),
           fontsize=8.5, frameon=True, facecolor='white', edgecolor='#cccccc',
           framealpha=1.0, borderaxespad=0, labelspacing=0.42, handlelength=2.2,
           borderpad=0.4)

plt.savefig('out.png', dpi=100)
